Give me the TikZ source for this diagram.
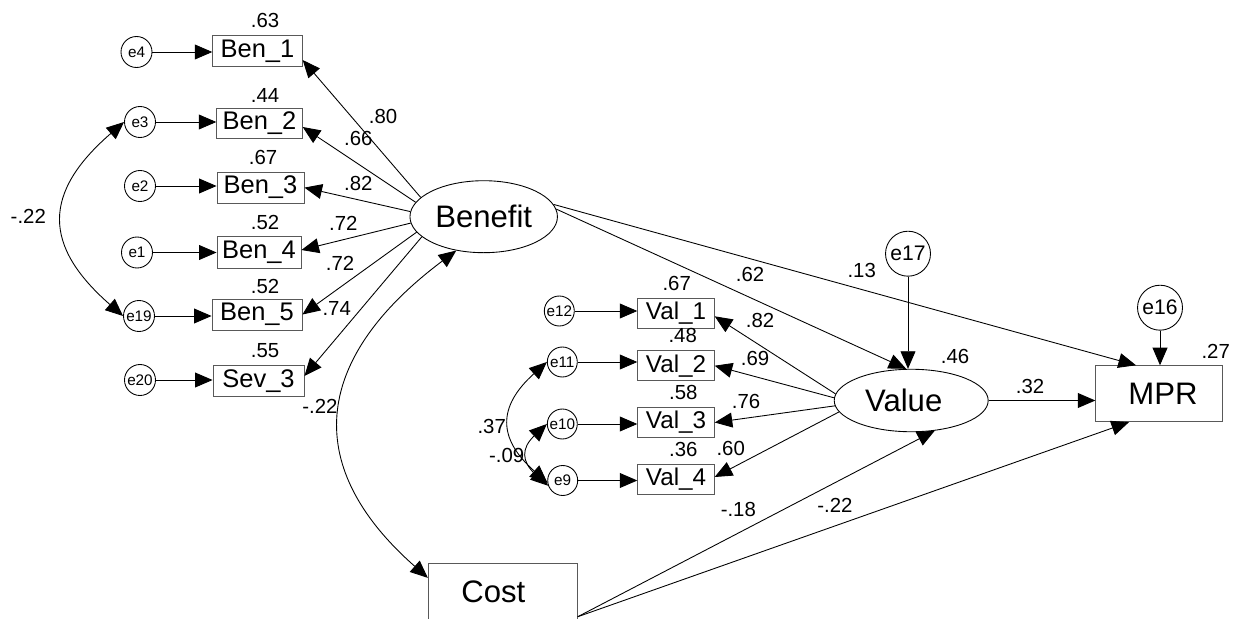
\documentclass[tikz,border=0pt]{standalone}
\usepackage{fontspec}
\setmainfont{Liberation Sans}
\usetikzlibrary{arrows.meta,shapes.geometric,calc}

\begin{document}
\begin{tikzpicture}[x=0.02cm,y=-0.02cm,
  line width=0.5pt,
  tip/.style={-{Triangle[length=10pt,width=8.5pt]}},
  both/.style={{Triangle[length=10pt,width=8.5pt]}-{Triangle[length=10pt,width=8.5pt]}},
  obs/.style={draw=black!65, rectangle, inner sep=0pt, font=\fontsize{14.5}{16}\selectfont},
  vobs/.style={obs, minimum width=1.53cm, minimum height=0.6cm, font=\fontsize{13.8}{15}\selectfont},
  bigobs/.style={obs, font=\fontsize{17.7}{20}\selectfont},
  err/.style={draw, circle, inner sep=0pt, minimum size=0.62cm, font=\fontsize{8.7}{10}\selectfont},
  bigerr/.style={draw, circle, inner sep=0pt, minimum size=0.9cm, font=\fontsize{12}{14}\selectfont},
  latent/.style={draw, ellipse, inner sep=0pt, font=\fontsize{17.7}{20}\selectfont},
  coef/.style={inner sep=0pt, font=\fontsize{11.6}{13}\selectfont},
]
\useasboundingbox (0,0) rectangle (1246,618);

% ---------- Benefit block ----------
\node[obs, minimum width=1.79cm, minimum height=0.63cm] (b1) at (257.5,51)  {Ben\_1};
\node[obs, minimum width=1.71cm, minimum height=0.60cm] (b2) at (259.5,123) {Ben\_2};
\node[obs, minimum width=1.74cm, minimum height=0.62cm] (b3) at (260.5,187.6) {Ben\_3};
\node[obs, minimum width=1.68cm, minimum height=0.64cm] (b4) at (259,252)   {Ben\_4};
\node[obs, minimum width=1.80cm, minimum height=0.62cm] (b5) at (257,314.5) {Ben\_5};
\node[obs, minimum width=1.82cm, minimum height=0.62cm] (s3) at (258.5,381) {Sev\_3};

\node[err] (e4)  at (136.5,52) {e4};
\node[err] (e3)  at (140,122)  {e3};
\node[err] (e2)  at (140,186)  {e2};
\node[err] (e1)  at (137,252.5){e1};
\node[err] (e19) at (139,316)  {e19};
\node[err] (e20) at (140,380)  {e20};

\node[coef] (r1) at (265,20)  {.63};
\node[coef] (r2) at (265,95)  {.44};
\node[coef] (r3) at (263,157) {.67};
\node[coef] (r4) at (265,222) {.52};
\node[coef] (r5) at (265,286) {.52};
\node[coef] (r6) at (265,351) {.55};

\node[latent, minimum width=2.95cm, minimum height=1.44cm] (ben) at (483.7,216.7) {Benefit};

\foreach \e/\b in {e4/b1, e3/b2, e2/b3, e1/b4, e19/b5, e20/s3}
  \draw[tip] (\e) -- (\e -| \b.west);

\draw[tip] (ben.163) -- ($(b1.east)+(0,9)$);
\draw[tip] (ben.168) -- ($(b2.east)+(0,4)$);
\draw[tip] (ben.176) -- (b3.east);
\draw[tip] (ben.185) -- ($(b4.east)+(0,-2)$);
\draw[tip] (ben.193) -- (b5.east);
\draw[tip] (ben.198) -- ($(s3.east)+(0,-5)$);

\node[coef] (l1) at (383,116.7)   {.80};
\node[coef] (l2) at (358.3,138.3) {.66};
\node[coef] (l3) at (358.3,183.3) {.82};
\node[coef] (l4) at (343.3,223.3) {.72};
\node[coef] (l5) at (340,263.3)   {.72};
\node[coef] (l6) at (336.7,308.3) {.74};

\draw[both] (e3.west) .. controls (42,193) and (43,246) .. (e19.west);
\node[coef] (c1) at (28.3,216.7) {-.22};

% ---------- Cost ----------
\node[bigobs, minimum width=2.98cm, minimum height=1.12cm] (cost) at (502.8,591.3) {Cost\hspace{0.38cm}\mbox{}};
\draw[both] (ben.231) .. controls (317,355) and (297,462.5) .. ($(cost.north west)+(0,15)$);
\node[coef] (c2) at (320,406.7) {-.22};

% ---------- Value block ----------
\node[latent, minimum width=3.08cm, minimum height=1.25cm] (val) at (911.2,400.5) {Value\hspace{0.3cm}\mbox{}};

\node[vobs] (v1) at (676,313.3) {Val\_1};
\node[vobs] (v2) at (676,365.7) {Val\_2};
\node[vobs] (v3) at (676,422.5) {Val\_3};
\node[vobs] (v4) at (676,479)   {Val\_4};

\node[err, minimum size=0.6cm] (e12) at (559.3,311) {e12};
\node[err, minimum size=0.6cm] (e11) at (562.3,362) {e11};
\node[err, minimum size=0.6cm] (e10) at (562.3,424) {e10};
\node[err, minimum size=0.6cm] (e9)  at (562.7,480.5) {e9};

\foreach \e/\b in {e12/v1, e11/v2, e10/v3, e9/v4}
  \draw[tip] (\e) -- (\e -| \b.west);

\draw[tip] (val.175) -- ($(v1.east)+(0,3)$);
\draw[tip] (val.178) -- (v2.east);
\draw[tip] (val.184) -- (v3.east);
\draw[tip] (val.189) -- ($(v4.east)+(0,-2)$);

\node[coef] (q1) at (676.7,283.3) {.67};
\node[coef] (q2) at (682.7,335)   {.48};
\node[coef] (q3) at (683.3,392.7) {.58};
\node[coef] (q4) at (683.3,449.3) {.36};
\node[coef] (m1) at (760,320)     {.82};
\node[coef] (m2) at (755,358.3)   {.69};
\node[coef] (m3) at (746,401.7)   {.76};
\node[coef] (m4) at (730.7,448.3) {.60};

\draw[both] (e11.west) .. controls (497,407) and (498,439) .. (e9.188);
\draw[both] (e10.west) .. controls (521.3,448) and (521.3,461.6) .. (e9.200);
\node[coef] (c3) at (491.7,426.7) {.37};
\node[coef] (c4) at (506.7,455)   {-.09};

% ---------- Structural part ----------
\node[bigobs, minimum width=2.53cm, minimum height=1.12cm] (mpr) at (1159,393.7) {\hspace{0.16cm}MPR};
\node[bigerr] (e17) at (908,253.7) {e17};
\node[bigerr] (e16) at (1160,307.7) {e16};

\draw[tip] (e17) -- (e17 |- val.north);
\draw[tip] (e16) -- (e16 |- mpr.north);
\draw[tip] (ben.6) -- ($(val.north)+(-5,0)$);
\draw[tip] (ben.10) -- ($(mpr.north)+(-23,0)$);
\draw[tip] (val.east) -- (val.east -| mpr.west);
\coordinate (cs) at ($(cost.south east)+(0,-3)$);
\draw[tip] (cs) -- (val.-52);
\draw[tip] (cs) -- ($(mpr.south)+(-30,0)$);

\node[coef] (p1) at (750,274.3)  {.62};
\node[coef] (p2) at (861.7,270)  {.13};
\node[coef] (p3) at (955,356.7)  {.46};
\node[coef] (p4) at (1030,386.7) {.32};
\node[coef] (p5) at (1215.7,351.7) {.27};
\node[coef] (p6) at (738.3,509.3) {-.18};
\node[coef] (p7) at (835,505)    {-.22};
\end{tikzpicture}
\end{document}
